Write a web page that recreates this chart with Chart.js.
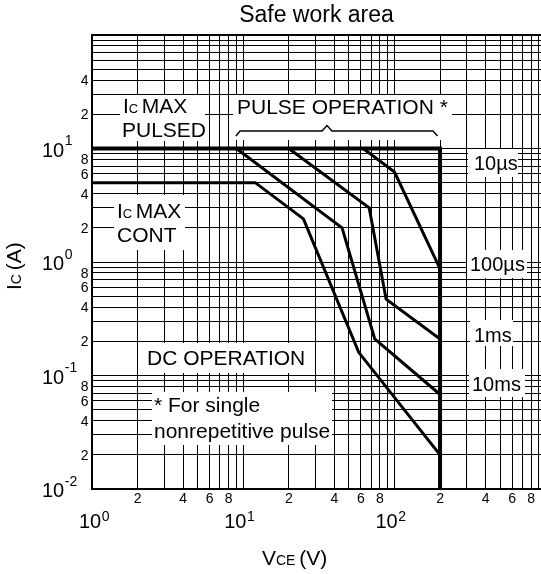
<!DOCTYPE html>
<html><head><meta charset="utf-8">
<script src="https://cdn.jsdelivr.net/npm/chart.js@4.4.1/dist/chart.umd.min.js"></script>
<style>html,body{margin:0;padding:0;background:#fff;overflow:hidden}canvas{display:block}</style>
</head><body>
<canvas id="c" width="541" height="574"></canvas>
<script>
const FONT = '"Liberation Sans", Arial, Helvetica, sans-serif';

// Axis ranges
const xRange = [1, 930];
const yRange = [0.01, 100];
const gridMultipliers = [1, 2, 3, 4, 5, 6, 7, 8, 9];
const xDecades = [1, 10, 100];
const yDecades = [0.01, 0.1, 1, 10];

// Tick labels
const xTickValues = [2, 4, 6, 8, 20, 40, 60, 80, 200, 400, 600, 800];
const xTickLabels = ['2', '4', '6', '8', '2', '4', '6', '8', '2', '4', '6', '8'];
const xPowerValues = [1, 10, 100];
const xPowerExponents = ['0', '1', '2'];
const yTickValues = [0.02, 0.04, 0.06, 0.08, 0.2, 0.4, 0.6, 0.8, 2, 4, 6, 8, 20, 40];
const yTickLabels = ['2', '4', '6', '8', '2', '4', '6', '8', '2', '4', '6', '8', '2', '4'];
const yPowerValues = [0.01, 0.1, 1, 10];
const yPowerExponents = ['-2', '-1', '0', '1'];

// Series: VCE (V) and IC (A)
const limit10usV = [1, 200, 200];
const limit10usI = [10, 10, 0.01];
const limit100usV = [62, 100, 200];
const limit100usI = [10, 6.2, 0.87];
const limit1msV = [20, 68, 88, 200];
const limit1msI = [10, 3.0, 0.47, 0.21];
const limit10msV = [9, 45, 74, 200];
const limit10msI = [10, 2.0, 0.21, 0.068];
const limitDcV = [1, 12, 25, 58, 200];
const limitDcI = [5, 5, 2.4, 0.16, 0.02];

const xGrid = xDecades.flatMap(d => gridMultipliers.map(m => m * d)).filter(v => v <= xRange[1]);
const yGrid = yDecades.flatMap(d => gridMultipliers.map(m => m * d)).concat([100]);

const pts = (v, i) => v.map((x, k) => ({x: x, y: i[k]}));
const ds = (label, v, i, w) => ({label, data: pts(v, i), xAxisID: 'x', yAxisID: 'y',
  showLine: true, borderColor: '#000', borderWidth: w, pointRadius: 0, fill: false, tension: 0});

// Annotation text boxes (pixel layout)
const notes = [
  {box: [120, 95, 205, 141], lines: [[123, 113, [['I', 21], ['C ', 13], ['MAX', 21]]], [122, 136.5, [['PULSED', 21]]]]},
  {box: [233, 95, 452, 140], lines: [[237, 114.3, [['PULSE OPERATION *', 21]]]]},
  {box: [468, 149, 518, 177], lines: [[474, 170, [['10µs', 20]]]]},
  {box: [114, 195, 185, 250], lines: [[117, 218.3, [['I', 21], ['C ', 13], ['MAX', 21]]], [117, 241.7, [['CONT', 21]]]]},
  {box: [467, 250, 527, 278], lines: [[470, 271, [['100µs', 20]]]]},
  {box: [470, 320, 513, 346], lines: [[474, 341.7, [['1ms', 20]]]]},
  {box: [469, 369, 525, 397], lines: [[472, 390.7, [['10ms', 20]]]]},
  {box: [141, 343, 312, 373], lines: [[147, 365, [['DC OPERATION', 21]]]]},
  {box: [152, 392, 332, 445], lines: [[154, 411.5, [['* For single', 21]]], [154, 438, [['nonrepetitive pulse', 21]]]]}
];
const bracket = [[236, 136], [240, 131], [322, 131], [327, 125.5], [332, 131], [433, 131], [437.5, 136]];

function drawRich(ctx, x, y, parts) {
  let cx = x;
  for (const [t, s] of parts) {
    ctx.font = s + 'px ' + FONT;
    ctx.fillText(t, cx, y);
    cx += ctx.measureText(t).width;
  }
  return cx;
}

const textPlugin = {
  id: 'textPlugin',
  beforeDatasetsDraw(chart) {
    const ctx = chart.ctx;
    ctx.save();
    ctx.textAlign = 'left';
    ctx.textBaseline = 'alphabetic';
    for (const n of notes) {
      const [x0, y0, x1, y1] = n.box;
      ctx.fillStyle = '#fff';
      ctx.fillRect(x0, y0, x1 - x0, y1 - y0);
      ctx.fillStyle = '#000';
      for (const [lx, ly, parts] of n.lines) drawRich(ctx, lx, ly, parts);
    }
    ctx.strokeStyle = '#000';
    ctx.lineWidth = 1.5;
    ctx.beginPath();
    bracket.forEach(([bx, by], k) => k ? ctx.lineTo(bx, by) : ctx.moveTo(bx, by));
    ctx.stroke();
    ctx.restore();
  },
  afterDraw(chart) {
    const ctx = chart.ctx;
    const xs = chart.scales.x, ys = chart.scales.y, a = chart.chartArea;
    ctx.save();
    ctx.fillStyle = '#000';
    // x minor labels
    ctx.textAlign = 'center';
    ctx.textBaseline = 'alphabetic';
    ctx.font = '14px ' + FONT;
    xTickValues.forEach((v, k) => ctx.fillText(xTickLabels[k], xs.getPixelForValue(v), a.bottom + 13.5));
    // x power labels
    ctx.textAlign = 'left';
    xPowerValues.forEach((v, k) => {
      ctx.font = '20px ' + FONT;
      const w10 = ctx.measureText('10').width;
      ctx.font = '14px ' + FONT;
      const we = ctx.measureText(xPowerExponents[k]).width;
      const px = xs.getPixelForValue(v);
      let left = px - 4 - (w10 + we) / 2;
      left = Math.max(left, a.left - 13);
      ctx.font = '20px ' + FONT;
      ctx.fillText('10', left, a.bottom + 39);
      ctx.font = '14px ' + FONT;
      ctx.fillText(xPowerExponents[k], left + w10 + 0.5, a.bottom + 31.5);
    });
    // y minor labels
    ctx.textAlign = 'right';
    ctx.textBaseline = 'middle';
    ctx.font = '14px ' + FONT;
    yTickValues.forEach((v, k) => ctx.fillText(yTickLabels[k], a.left - 3.5, ys.getPixelForValue(v) + 1));
    // y power labels
    ctx.textAlign = 'left';
    ctx.textBaseline = 'alphabetic';
    yPowerValues.forEach((v, k) => {
      const py = ys.getPixelForValue(v);
      ctx.font = '20px ' + FONT;
      const w10 = ctx.measureText('10').width;
      ctx.fillText('10', a.left - 50, py + 8.2);
      ctx.font = '14px ' + FONT;
      ctx.fillText(yPowerExponents[k], a.left - 50 + w10 + 0.5, py - 3.5);
    });
    // axis titles
    drawRich(ctx, 262, 565, [['V', 21], ['CE ', 14], ['(V)', 21]]);
    ctx.translate(21, 290);
    ctx.rotate(-Math.PI / 2);
    drawRich(ctx, 0, 0, [['I', 21], ['C ', 14], ['(A)', 21]]);
    ctx.restore();
  }
};

const logAxis = (range, gridVals, position) => ({
  type: 'logarithmic', position, min: range[0], max: range[1], bounds: 'data',
  afterBuildTicks: s => { s.ticks = gridVals.map(v => ({value: v})); },
  grid: {color: '#000', lineWidth: 1, drawTicks: false},
  border: {display: true, color: '#000', width: 2},
  ticks: {display: false, autoSkip: false}
});

new Chart(document.getElementById('c'), {
  type: 'scatter',
  data: {
    datasets: [
      ds('10µs', limit10usV, limit10usI, 4),
      ds('100µs', limit100usV, limit100usI, 3),
      ds('1ms', limit1msV, limit1msI, 3),
      ds('10ms', limit10msV, limit10msI, 3),
      ds('DC', limitDcV, limitDcI, 3)
    ]
  },
  options: {
    responsive: false,
    animation: false,
    devicePixelRatio: 1,
    layout: {padding: {left: 92, right: 0, top: 0, bottom: 85}},
    plugins: {
      legend: {display: false},
      tooltip: {enabled: false},
      title: {
        display: true, text: 'Safe work area', fullSize: false, color: '#000',
        font: {family: FONT, size: 23, weight: 'normal', lineHeight: 1.2},
        padding: {top: 1.8, bottom: 5.6}
      }
    },
    scales: {
      x: logAxis(xRange, xGrid, 'bottom'),
      y: logAxis(yRange, yGrid, 'left'),
      xTop: {
        type: 'linear', position: 'top', min: 0, max: 1,
        grid: {display: false, drawTicks: false},
        border: {display: true, color: '#000', width: 2},
        ticks: {display: false}
      }
    }
  },
  plugins: [textPlugin]
});
</script>
</body></html>
